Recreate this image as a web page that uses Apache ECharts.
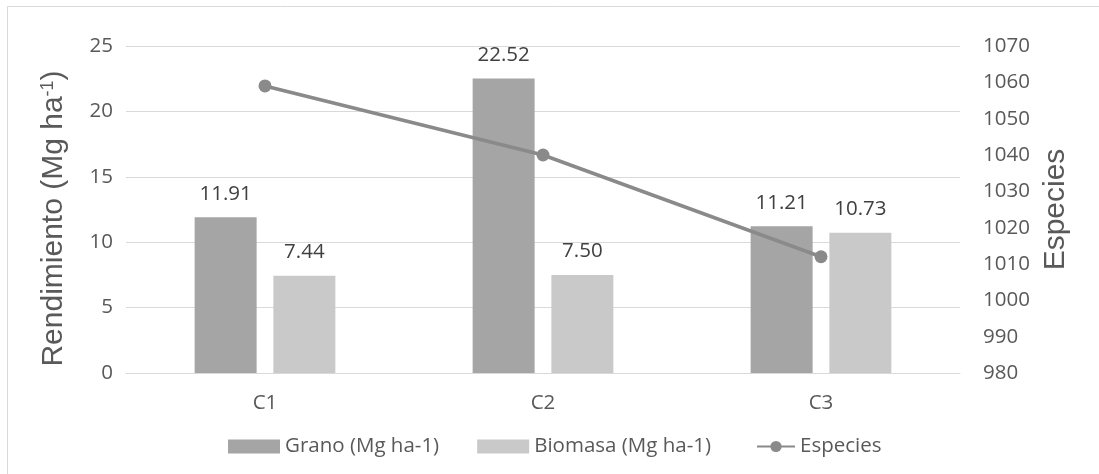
<!DOCTYPE html>
<html><head><meta charset="utf-8">
<script src="https://cdn.jsdelivr.net/npm/echarts@6/dist/echarts.min.js"></script>
<style>html,body{margin:0;padding:0;background:#fff}#c{width:1099px;height:474px}</style>
</head><body><div id="c"></div>
<script>
const categories = ['C1', 'C2', 'C3'];
const grano = [11.91, 22.52, 11.21];
const biomasa = [7.44, 7.50, 10.73];
const especies = [1059, 1040, 1012];
const leftTicks = [0, 5, 10, 15, 20, 25];
const rightTicks = [980, 990, 1000, 1010, 1020, 1030, 1040, 1050, 1060, 1070];

const font = 'Open Sans, Liberation Sans, sans-serif';
const titleFont = 'Liberation Sans, Arial, sans-serif';
const fs = 20.5;
const chart = echarts.init(document.getElementById('c'), null, {renderer: 'canvas'});
chart.setOption({
  animation: false,
  backgroundColor: '#fff',
  graphic: [{type: 'rect', shape: {x: 7.5, y: 6.5, width: 1200, height: 600}, style: {fill: 'none', stroke: '#d9d9d9', lineWidth: 1}, silent: true}],
  grid: {left: 126, right: 139, top: 46, bottom: 101},
  legend: [{
    top: 431, left: 223, itemGap: 38, itemWidth: 52, itemHeight: 14,
    textStyle: {fontFamily: font, fontSize: fs, color: '#595959'},
    data: [{name: 'Grano (Mg ha-1)', icon: 'rect'}, {name: 'Biomasa (Mg ha-1)', icon: 'rect'}]
  }, {
    top: 431, left: 751, itemWidth: 38, itemHeight: 14,
    textStyle: {fontFamily: font, fontSize: fs, color: '#595959'},
    data: [{name: 'Especies'}]
  }],
  xAxis: {
    type: 'category', data: categories,
    axisLine: {lineStyle: {color: '#d9d9d9', width: 1}},
    axisTick: {show: false},
    axisLabel: {fontFamily: font, fontSize: fs, color: '#595959', margin: 20}
  },
  yAxis: [{
    type: 'value', min: leftTicks[0], max: leftTicks[leftTicks.length - 1], interval: 5,
    name: '{a|Rendimiento (Mg ha}{s|-1}{a|)}', nameLocation: 'middle', nameGap: 57,
    nameTextStyle: {padding: [0, 18, 0, 0], rich: {a: {fontFamily: titleFont, fontSize: 30, color: '#595959'}, s: {fontFamily: titleFont, fontSize: 18, color: '#595959', verticalAlign: 'top', padding: [0, 0, 12, 0]}}},
    axisLine: {show: false}, axisTick: {show: false},
    axisLabel: {fontFamily: font, fontSize: fs, color: '#595959', margin: 13},
    splitLine: {lineStyle: {color: '#d9d9d9', width: 1}}
  }, {
    type: 'value', min: rightTicks[0], max: rightTicks[rightTicks.length - 1], interval: 10,
    name: 'Especies', nameLocation: 'middle', nameGap: 81, nameRotate: 90,
    nameTextStyle: {fontFamily: titleFont, fontSize: 30, color: '#595959'},
    axisLine: {show: false}, axisTick: {show: false},
    axisLabel: {fontFamily: font, fontSize: fs, color: '#595959', margin: 23, formatter: v => String(v)},
    splitLine: {show: false}
  }],
  series: [{
    name: 'Grano (Mg ha-1)', type: 'bar', data: grano, barWidth: '22.3%', barGap: '27%',
    itemStyle: {color: '#a5a5a5'},
    label: {show: true, position: 'top', distance: 13, fontFamily: font, fontSize: fs, color: '#404040', formatter: p => p.value.toFixed(2)}
  }, {
    name: 'Biomasa (Mg ha-1)', type: 'bar', data: biomasa, barWidth: '22.3%', barGap: '27%',
    itemStyle: {color: '#c9c9c9'},
    label: {show: true, position: 'top', distance: 13, fontFamily: font, fontSize: fs, color: '#404040', formatter: p => p.value.toFixed(2)}
  }, {
    name: 'Especies', type: 'line', yAxisIndex: 1, data: especies,
    symbol: 'circle', symbolSize: 13,
    lineStyle: {color: '#8a8a8a', width: 3.5}, itemStyle: {color: '#8a8a8a'}
  }]
});
</script></body></html>
